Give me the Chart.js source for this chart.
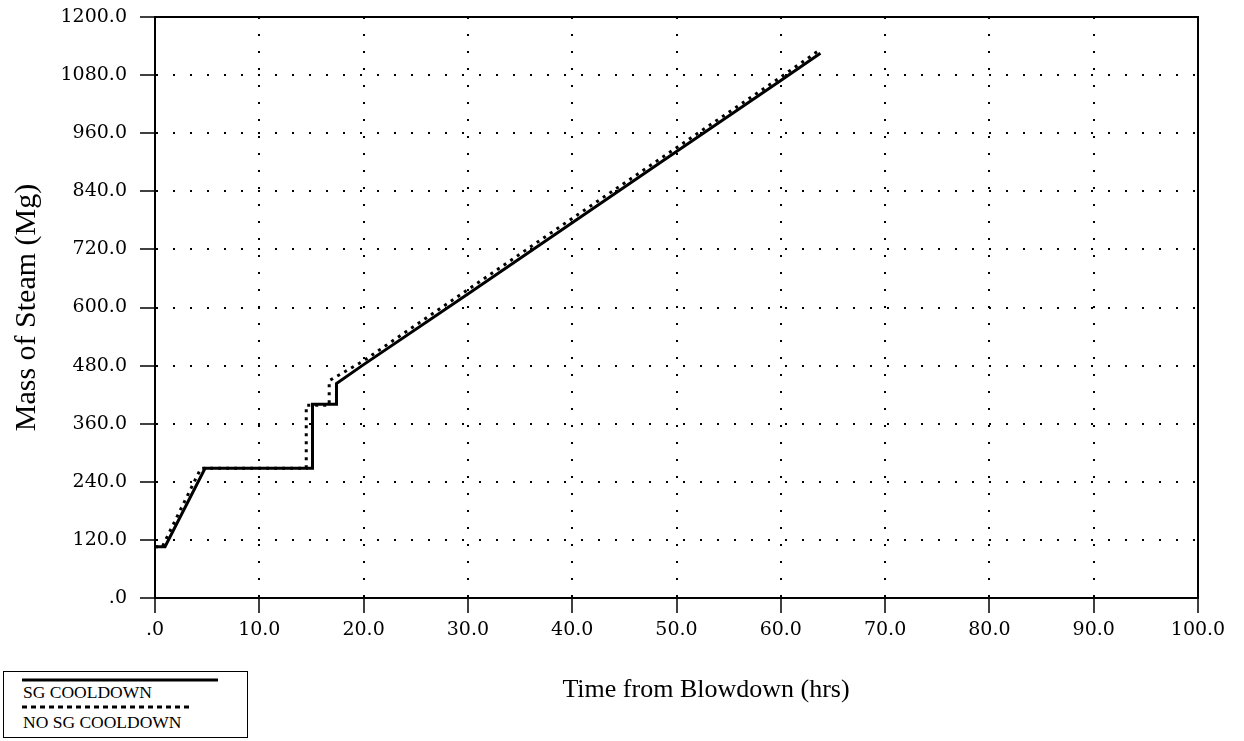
<!DOCTYPE html>
<html lang="en">
<head>
  <meta charset="UTF-8">
  <title>Mass of Steam</title>
  <script src="https://cdn.jsdelivr.net/npm/chart.js"></script>
  <style>
    body { margin: 0; background: #fff; }
    #wrap { position: relative; width: 1244px; height: 741px; }
    #legend {
      position: absolute; left: 3px; top: 671px; width: 245px; height: 67px;
      border: 1.5px solid #000; background: #fff; box-sizing: border-box;
      font-family: "Liberation Serif", serif; font-size: 17.5px; color: #000;
    }
    #legend .txt { position: absolute; left: 19px; line-height: 17px; }
    #legend svg { position: absolute; left: 18px; }
    #xtitle {
      position: absolute; left: 706px; top: 674px; transform: translateX(-50%);
      font-family: "Liberation Serif", serif; font-size: 26px; color: #000; white-space: nowrap;
    }
  </style>
</head>
<body>
<div id="wrap">
  <canvas id="myChart" width="1244" height="741"></canvas>
  <div id="xtitle"></div>
  <div id="legend"></div>
</div>

<script>
  // series
  var seriesLabels = ['SG COOLDOWN', 'NO SG COOLDOWN'];
  var sgTime   = [0, 0.96, 4.8, 15.1, 15.1, 17.4, 17.4, 20, 30, 40, 50, 60, 63.8];
  var sgMass   = [106, 106, 268, 268, 400, 400, 443, 482, 628, 775, 922, 1069, 1125];
  var noSgTime = [0, 0.7, 4.4, 14.5, 14.5, 16.7, 16.7, 20, 30, 40, 50, 60, 63.6];
  var noSgMass = [106, 106, 268, 268, 398, 398, 449, 490, 637, 784, 930, 1076, 1130];

  var xTickLabels = ['.0', '10.0', '20.0', '30.0', '40.0', '50.0', '60.0', '70.0', '80.0', '90.0', '100.0'];
  var yTickLabels = ['.0', '120.0', '240.0', '360.0', '480.0', '600.0', '720.0', '840.0', '960.0', '1080.0', '1200.0'];
  var xTitle = 'Time from Blowdown (hrs)';
  var yTitle = 'Mass of Steam (Mg)';

  function pts(xs, ys) {
    return xs.map(function (x, i) { return {x: x, y: ys[i]}; });
  }

  var tickFont = {family: 'DejaVu Serif', size: 19};

  // hide the dotted grid line on the frame edges
  function gridColor(c) {
    var n = c.scale.ticks.length;
    return (c.index === 0 || c.index === n - 1) ? 'rgba(0,0,0,0)' : '#000';
  }

  var frame = {
    id: 'frame',
    afterDatasetsDraw: function (chart) {
      var a = chart.chartArea, g = chart.ctx;
      g.save();
      g.strokeStyle = '#000';
      g.lineWidth = 2;
      g.strokeRect(a.left, a.top, a.right - a.left, a.bottom - a.top);
      g.restore();
    }
  };

  var ctx = document.getElementById('myChart');
  var chart = new Chart(ctx, {
    type: 'line',
    data: {
      datasets: [{
        label: seriesLabels[0],
        data: pts(sgTime, sgMass),
        borderColor: '#000',
        borderWidth: 3,
        pointRadius: 0,
        tension: 0
      }, {
        label: seriesLabels[1],
        data: pts(noSgTime, noSgMass),
        borderColor: '#000',
        borderWidth: 3,
        borderDash: [3, 5],
        pointRadius: 0,
        tension: 0
      }]
    },
    options: {
      responsive: false,
      animation: false,
      layout: {padding: {top: 17, right: 46, left: 0, bottom: 0}},
      plugins: {legend: {display: false}, tooltip: {enabled: false}},
      scales: {
        x: {
          type: 'linear', min: 0, max: 100,
          afterFit: function (s) { s.height = 143; },
          ticks: {
            stepSize: 10, color: '#000', font: tickFont, padding: 6, maxRotation: 0,
            callback: function (v, i) { return xTickLabels[i]; }
          },
          grid: {color: gridColor, lineWidth: 2, tickLength: 15, tickColor: '#000', tickWidth: 1.5, tickBorderDash: []},
          border: {display: true, color: '#000', width: 2, dash: [2, 15]}
        },
        y: {
          min: 0, max: 1200,
          afterFit: function (s) { s.width = 155; s.paddingTop = 0; s.paddingBottom = 0; },
          ticks: {
            stepSize: 120, color: '#000', font: tickFont, padding: 13,
            callback: function (v, i) { return yTickLabels[i]; }
          },
          grid: {color: gridColor, lineWidth: 2, tickLength: 15, tickColor: '#000', tickWidth: 1.5, tickBorderDash: []},
          border: {display: true, color: '#000', width: 2, dash: [2, 15]},
          title: {display: true, text: yTitle, color: '#000', font: {family: 'Liberation Serif', size: 30}, padding: {top: 9}}
        }
      }
    },
    plugins: [frame]
  });

  document.getElementById('xtitle').textContent = xTitle;

  // legend box under the y axis
  var leg = document.getElementById('legend');
  var rows = [
    {line: 6, text: 12, dash: ''},
    {line: 33, text: 42, dash: '5,4'}
  ];
  rows.forEach(function (r, i) {
    var dash = r.dash ? ' stroke-dasharray="' + r.dash + '"' : '';
    leg.innerHTML +=
      '<svg width="200" height="4" style="top:' + r.line + 'px">' +
      '<line x1="0" y1="2" x2="' + (i === 0 ? 196 : 168) + '" y2="2" stroke="#000" stroke-width="3"' + dash + '/></svg>' +
      '<div class="txt" style="top:' + r.text + 'px">' + seriesLabels[i] + '</div>';
  });
</script>
</body>
</html>
